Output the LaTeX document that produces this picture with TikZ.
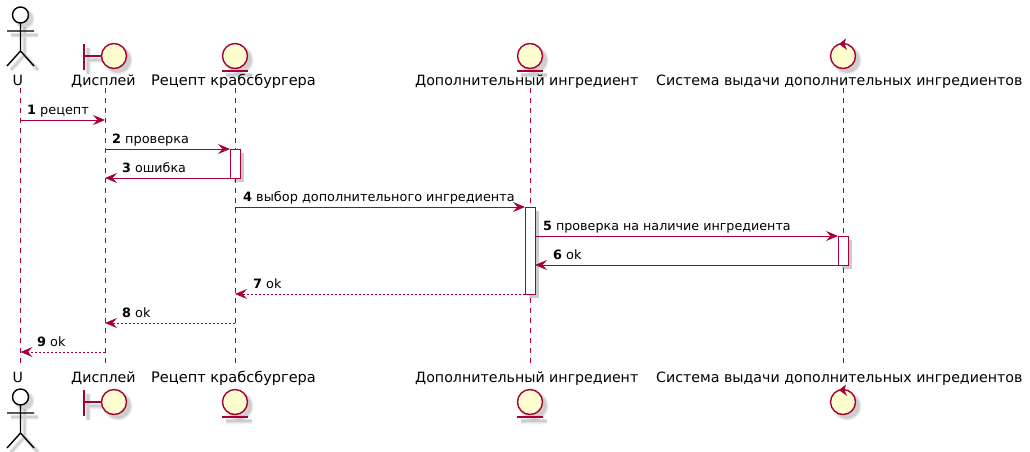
\documentclass[tikz,border=0pt]{standalone}
\usepackage{fontspec}
\setmainfont{DejaVu Sans}
\usetikzlibrary{arrows.meta}
\definecolor{pu}{HTML}{A80036}
\definecolor{cream}{HTML}{FEFECE}
\tikzset{
  x=1pt,y=-1pt,
  life/.style={draw=pu,line width=.8pt,dash pattern=on 5pt off 5pt},
  msg/.style={draw=pu,line width=.9pt,-{Stealth[length=12pt,width=10pt,inset=4.5pt,fill=pu]}},
  reply/.style={msg,dash pattern=on 2pt off 2pt},
  actbox/.style={draw=pu,fill=white,line width=.9pt,rectangle,minimum width=10pt,inner sep=0pt,anchor=north,outer sep=0pt},
  head/.style={font=\fontsize{14.2}{16}\selectfont,anchor=base west,inner sep=0pt},
  headwide/.style={head,font=\fontsize{14.55}{16}\selectfont},
  lbl/.style={font=\fontsize{12.86}{15}\selectfont,anchor=base west,inner sep=0pt},
  lblnarrow/.style={lbl,font=\fontsize{12.7}{15}\selectfont},
  ink/.style={draw=pu,line width=1.4pt},
  man/.style={draw=black,line width=1.4pt},
  sh1/.style={draw=black,opacity=.06,line width=5pt},
  sh2/.style={draw=black,opacity=.07,line width=3.2pt},
  sh3/.style={draw=black,opacity=.08,line width=1.5pt},
}
\newcommand{\shadowed}[1]{%
  \begin{scope}[shift={(4,4)}]
    \path[sh1] #1; \path[sh2] #1; \path[sh3] #1;
  \end{scope}}
\newcommand{\ActorFig}[2]{\begin{scope}[shift={(#1,#2)}]
  \shadowed{(0,8) -- (0,36) (-13.5,16) -- (13.5,16) (-13.5,51) -- (0,36) -- (13.5,51)}
  \fill[black,opacity=.08] (4,4) circle (10);
  \fill[black,opacity=.10] (4,4) circle (8.5);
  \draw[man,fill=white] (0,0) circle (8);
  \draw[man] (0,8) -- (0,36) (-13.5,16) -- (13.5,16) (-13.5,51) -- (0,36) -- (13.5,51);
\end{scope}}
\newcommand{\CircleBody}[2]{%
  \fill[black,opacity=.08] (#1+4,#2+4) circle (14.5);
  \fill[black,opacity=.12] (#1+4,#2+4) circle (13);
  \draw[ink,fill=cream] (#1,#2) circle (12.5);}
\newcommand{\BoundaryFig}[2]{%
  \shadowed{(#1-30,#2-12) -- (#1-30,#2+14) (#1-30,#2) -- (#1-13,#2)}
  \CircleBody{#1}{#2}
  \draw[ink] (#1-30,#2-12) -- (#1-30,#2+14) (#1-30,#2) -- (#1-13,#2);}
\newcommand{\EntityFig}[2]{%
  \shadowed{(#1-13,#2+15) -- (#1+13,#2+15)}
  \CircleBody{#1}{#2}
  \draw[ink] (#1-13,#2+15) -- (#1+13,#2+15);}
\newcommand{\ControlFig}[2]{%
  \CircleBody{#1}{#2}
  \fill[pu] (#1-4,#2-12) -- (#1+3,#2-17.5) -- (#1+1.5,#2-12) -- (#1+4,#2-6) -- cycle;}
\begin{document}
\begin{tikzpicture}
\useasboundingbox (0,0) rectangle (1030,451);
\fill[white] (0,0) rectangle (1030,451);
% lifelines
\foreach \n/\x in {a/20.5,b/105,c/235,d/530,e/843}{
  \coordinate (\n top) at (\x,88);
  \coordinate (\n bot) at (\x,368);
  \draw[life] (\n top) -- (\n bot);
}
% activation bars
\node[actbox,minimum height=29pt] (act1) at (235,149) {};
\node[actbox,minimum height=87pt] (act2) at (530,207) {};
\node[actbox,minimum height=29pt] (act3) at (843,236) {};
\foreach \nn in {act1,act2,act3}{
  \fill[black,opacity=.2] ([shift={(0.5,4)}]\nn.north east) rectangle ([shift={(4,4)}]\nn.south east);
  \fill[black,opacity=.2] ([shift={(4,0.5)}]\nn.south west) rectangle ([shift={(0.5,4)}]\nn.south east);
}
% participants, top
\ActorFig{20.5}{15}
\BoundaryFig{114}{56}
\EntityFig{235}{56}
\EntityFig{530}{56}
\ControlFig{843}{56}
\node[head] (t1) at (12.5,85) {U};
\node[head] (t2) at (71,85) {Дисплей};
\node[headwide] (t3) at (151,85) {Рецепт крабсбургера};
\node[head] (t4) at (415,85) {Дополнительный ингредиент};
\node[head] (t5) at (656,85) {Система выдачи дополнительных ингредиентов};
% participants, bottom
\ActorFig{20.5}{397}
\BoundaryFig{114}{402}
\EntityFig{235}{402}
\EntityFig{530}{402}
\ControlFig{843}{402}
\node[head] (b1) at (12.5,382) {U};
\node[head] (b2) at (71,382) {Дисплей};
\node[headwide] (b3) at (151,382) {Рецепт крабсбургера};
\node[head] (b4) at (415,382) {Дополнительный ингредиент};
\node[head] (b5) at (656,382) {Система выдачи дополнительных ингредиентов};
% messages
\coordinate (a1) at (20.5,120); \coordinate (b1e) at (105,120);
\draw[msg] (a1) -- (b1e);
\coordinate (b2s) at (105,149);
\draw[msg] (b2s) -- (act1.north west);
\coordinate (b3e) at (105,178);
\draw[msg] (act1.south west) -- (b3e);
\coordinate (c4s) at (235,207);
\draw[msg] (c4s) -- (act2.north west);
\coordinate (e5e) at (act3.north west);
\coordinate (d5s) at (act2.east |- e5e);
\draw[msg] (d5s) -- (e5e);
\coordinate (d6e) at (act2.east |- act3.south west);
\draw[msg] (act3.south west) -- (d6e);
\coordinate (c7e) at (235,294);
\draw[reply] (act2.south west) -- (c7e);
\coordinate (c8s) at (235,323); \coordinate (b8e) at (105,323);
\draw[reply] (c8s) -- (b8e);
\coordinate (b9s) at (105,352); \coordinate (a9e) at (20.5,352);
\draw[reply] (b9s) -- (a9e);
% labels
\node[lbl] (m1) at (27,114.5) {\textbf{1} рецепт};
\node[lbl] (m2) at (112,143.5) {\textbf{2} проверка};
\node[lblnarrow] (m3) at (122,172.5) {\textbf{3} ошибка};
\node[lbl] (m4) at (243,201.5) {\textbf{4} выбор дополнительного ингредиента};
\node[lblnarrow] (m5) at (543,230.5) {\textbf{5} проверка на наличие ингредиента};
\node[lbl] (m6) at (553,259.5) {\textbf{6} ok};
\node[lbl] (m7) at (253,288.5) {\textbf{7} ok};
\node[lbl] (m8) at (122,317.5) {\textbf{8} ok};
\node[lbl] (m9) at (37,346.5) {\textbf{9} ok};
\end{tikzpicture}
\end{document}
